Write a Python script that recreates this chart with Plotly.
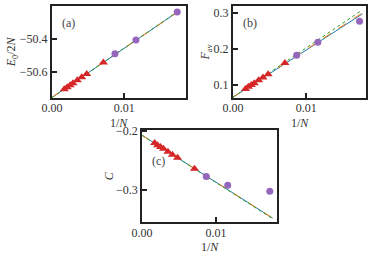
import plotly.graph_objects as go

# 1/N values
inv_n_tri = [0.0017, 0.0021, 0.0025, 0.0029, 0.0035, 0.0041, 0.0048, 0.0071]
inv_n_circ = [0.0087, 0.0116, 0.0173]

# Panel (a): E0/2N
e_tri = [-50.702, -50.690, -50.678, -50.666, -50.648, -50.630, -50.610, -50.541]
e_circ = [-50.488, -50.405, -50.236]
# Panel (b): F_av
f_tri = [0.089, 0.095, 0.100, 0.105, 0.113, 0.121, 0.130, 0.161]
f_circ = [0.183, 0.219, 0.277]
# Panel (c): C
c_tri = [-0.220, -0.224, -0.227, -0.230, -0.235, -0.240, -0.245, -0.264]
c_circ = [-0.277, -0.292, -0.302]

# Fit lines (endpoints)
fit_x = [0.0, 0.0177]
e_fit1 = [-50.752, -50.226]
e_fit2 = [-50.752, -50.227]
e_fit3 = [-50.753, -50.224]
f_fit1 = [0.066, 0.298]
f_fit2 = [0.066, 0.301]
f_fit3 = [0.066, 0.309]
c_fit1 = [-0.207, -0.348]
c_fit2 = [-0.207, -0.348]
c_fit3 = [-0.207, -0.349]

FONT = "Liberation Serif"
BLUE, ORANGE, GREEN = "#1f77b4", "#ff7f0e", "#2ca02c"
RED, PURPLE = "#d62728", "#9467bd"
TXT = "#333"

fig = go.Figure()

panels = [
    ("x", "y", e_tri, e_circ, (e_fit1, e_fit2, e_fit3)),
    ("x2", "y2", f_tri, f_circ, (f_fit1, f_fit2, f_fit3)),
    ("x3", "y3", c_tri, c_circ, (c_fit1, c_fit2, c_fit3)),
]
for xa, ya, tri, circ, fits in panels:
    for fy, col, dash in zip(fits, (BLUE, ORANGE, GREEN), ("solid", "dash", "dot")):
        fig.add_trace(go.Scatter(x=fit_x, y=fy, mode="lines", xaxis=xa, yaxis=ya,
                                 line=dict(color=col, width=1.0, dash=dash), showlegend=False))
    fig.add_trace(go.Scatter(x=inv_n_tri, y=tri, mode="markers", xaxis=xa, yaxis=ya,
                             marker=dict(symbol="triangle-up", color=RED, size=8), showlegend=False))
    fig.add_trace(go.Scatter(x=inv_n_circ, y=circ, mode="markers", xaxis=xa, yaxis=ya,
                             marker=dict(symbol="circle", color=PURPLE, size=7), showlegend=False))

axis_common = dict(showgrid=False, zeroline=False, showline=True, mirror=True, automargin=False,
                   linecolor="#222", linewidth=2, ticks="inside", ticklen=5, tickwidth=2,
                   tickcolor="#222", tickfont=dict(family=FONT, size=12, color=TXT))

def xt():
    return dict(tickvals=[0.0, 0.01], ticktext=["0.00", "0.01"], ticklabelstandoff=-2)

fig.update_layout(
    width=374, height=257,
    margin=dict(l=0, r=0, t=0, b=0, autoexpand=False),
    plot_bgcolor="white", paper_bgcolor="white",
    xaxis=dict(domain=[0.139, 0.497], range=[0, 0.0185], anchor="y", **xt(), **axis_common),
    yaxis=dict(domain=[0.619, 0.977], range=[-50.755, -50.2], anchor="x",
               tickvals=[-50.6, -50.4], ticktext=["\u221250.6", "\u221250.4"],
               title=dict(text="<i>E</i><sub>0</sub>/2<i>N</i>", font=dict(family=FONT, size=12, color=TXT), standoff=0),
               **axis_common),
    xaxis2=dict(domain=[0.623, 0.979], range=[0, 0.0182], anchor="y2", **xt(), **axis_common),
    yaxis2=dict(domain=[0.619, 0.977], range=[0.064, 0.32], anchor="x2",
                tickvals=[0.1, 0.2, 0.3], ticktext=["0.1", "0.2", "0.3"],
                title=dict(text="<i>F</i><sub>av</sub>", font=dict(family=FONT, size=12, color=TXT), standoff=0),
                **axis_common),
    xaxis3=dict(domain=[0.380, 0.741], range=[0, 0.0183], anchor="y3", **xt(), **axis_common),
    yaxis3=dict(domain=[0.135, 0.494], range=[-0.355, -0.198], anchor="x3",
                tickvals=[-0.3, -0.2], ticktext=["\u22120.3", "\u22120.2"],
                title=dict(text="<i>C</i>", font=dict(family=FONT, size=12, color=TXT), standoff=0),
                **axis_common),
)

for lab, xa, ya, yy in (("(a)", "x", "y", 0.81), ("(b)", "x2", "y2", 0.81), ("(c)", "x3", "y3", 0.66)):
    fig.add_annotation(text=lab, xref=f"{xa} domain", yref=f"{ya} domain",
                       x=0.06, y=yy, xanchor="left", yanchor="middle", showarrow=False,
                       font=dict(family=FONT, size=12, color="#444"))

# x-axis titles placed just below tick labels
for xa, ya in (("x", "y"), ("x2", "y2"), ("x3", "y3")):
    fig.add_annotation(text="1/<i>N</i>", xref=f"{xa} domain", yref=f"{ya} domain",
                       x=0.5, y=0, yshift=-16, xanchor="center", yanchor="top", showarrow=False,
                       font=dict(family=FONT, size=12, color=TXT))

fig.write_html("out.html", config={"displayModeBar": False},
               post_script="document.body.style.margin='0';document.body.style.overflow='hidden';")
